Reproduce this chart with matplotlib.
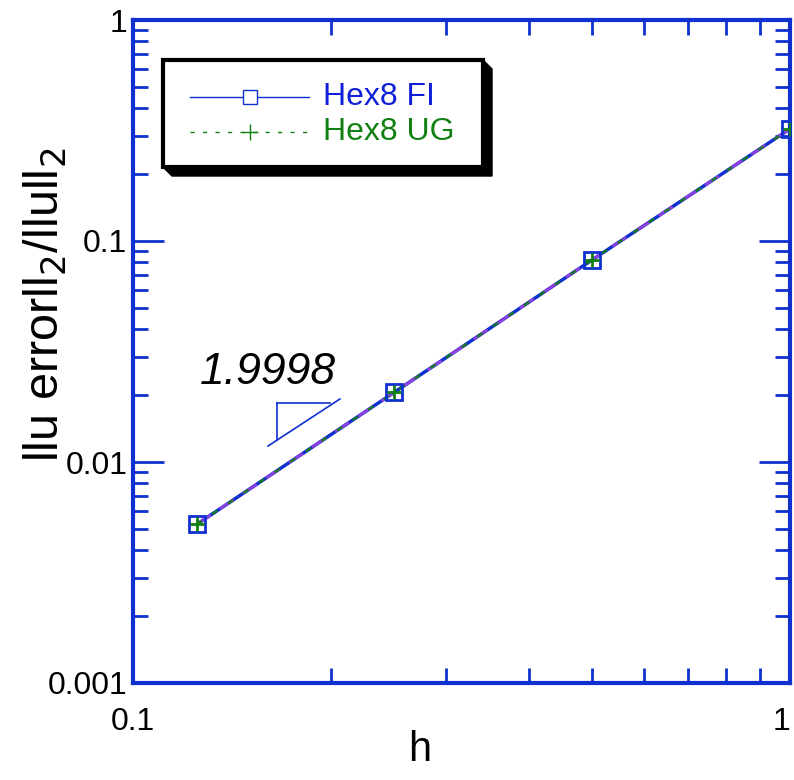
import matplotlib.pyplot as plt
from matplotlib.patches import Rectangle, Polygon
from matplotlib.lines import Line2D
from matplotlib.ticker import NullFormatter

plt.rcParams['font.family'] = ['Liberation Sans', 'DejaVu Sans']

# data
h = [0.125, 0.25, 0.5, 1.0]
err_fi = [0.00522, 0.0207, 0.0822, 0.3216]
err_ug = [0.00522, 0.0207, 0.0822, 0.3216]
slope_label = '1.9998'

# slope triangle (data coords)
tri_x = [0.1605, 0.2065]
tri_y = [0.01181, 0.01928]
leg_x = 0.1656
leg_y = [0.01258, 0.01849]
top_x = [0.1656, 0.1994]

blue = '#1030d0'
green = '#108010'
purple = '#9040e0'

fig = plt.figure(figsize=(7.94, 7.80), dpi=100)
ax = fig.add_axes([133/794, 97/780, 657/794, 663/780])

ax.plot(h, err_fi, '-', color=blue, lw=2.5, zorder=3)
ax.plot(h, err_fi, '--', color=purple, lw=2, dashes=(6, 4), zorder=4)
ax.plot(h, err_ug, '--', color=green, lw=1.5, dashes=(3, 6), zorder=5)
ax.plot(h, err_fi, 's', ms=12, mfc='none', mec=blue, mew=2, zorder=6)
ax.plot(h, err_ug, '+', ms=10, mec=green, mew=2, zorder=7)

ax.set_xscale('log')
ax.set_yscale('log')
ax.set_xlim(0.1, 1)
ax.set_ylim(0.001, 1)

ax.set_xticks([0.1, 1])
ax.set_xticklabels(['0.1', '1'])
ax.set_yticks([0.001, 0.01, 0.1, 1])
ax.set_yticklabels(['0.001', '0.01', '0.1', '1'])
ax.xaxis.set_minor_formatter(NullFormatter())
ax.yaxis.set_minor_formatter(NullFormatter())
ax.get_xticklabels()[-1].set_ha('right')

for s in ax.spines.values():
    s.set_color(blue)
    s.set_linewidth(3)
ax.tick_params(which='major', direction='in', length=22, width=2, color=blue,
               labelsize=23, top=True, right=True, pad=4)
ax.tick_params(which='minor', direction='in', length=11, width=2, color=blue,
               top=True, right=True)
ax.tick_params(axis='x', which='major', pad=17)

# slope triangle
ax.plot(tri_x, tri_y, color=blue, lw=1.2)
ax.plot([leg_x, leg_x], leg_y, color=blue, lw=1.2)
ax.plot(top_x, [leg_y[1], leg_y[1]], color=blue, lw=1.2)
ax.text(0.1605, 0.0255, slope_label, fontsize=32, style='italic',
        ha='center', va='center')

# axis labels
fig.text(45/794, 1 - 305/780, 'llu errorll$_2$/llull$_2$', rotation=90,
         fontsize=35, ha='center', va='center')
fig.text(420/794, 1 - 750/780, 'h', fontsize=30, ha='center', va='center')

# legend box drawn by hand
x0, x1 = 163/794, 483/794
y0, y1 = 1 - 167/780, 1 - 60/780
dx, dy = 9/794, 9/780
shadow = Polygon([(x0, y0), (x0 + dx, y0 - dy), (x1 + dx, y0 - dy),
                  (x1 + dx, y1 - dy), (x1, y1)],
                 closed=True, transform=fig.transFigure, facecolor='black',
                 edgecolor='black', zorder=10)
box = Rectangle((x0, y0), x1 - x0, y1 - y0, transform=fig.transFigure,
                facecolor='white', edgecolor='black', lw=3, zorder=11)
fig.patches.extend([shadow, box])

ly1, ly2 = 1 - 97/780, 1 - 132/780
fig.lines.append(Line2D([190/794, 309/794], [ly1, ly1], color=blue, lw=1,
                        transform=fig.transFigure, zorder=12))
fig.lines.append(Line2D([250/794], [ly1], marker='s', ms=10, mfc='white',
                        mec=blue, mew=1, transform=fig.transFigure, zorder=13))
fig.lines.append(Line2D([190/794, 309/794], [ly2, ly2], color=green, lw=1,
                        ls=(0, (3, 6)), transform=fig.transFigure, zorder=12))
fig.lines.append(Line2D([250/794], [ly2], marker='+', ms=12, mec=green,
                        mew=1, transform=fig.transFigure, zorder=13))
fig.text(323/794, ly1, 'Hex8 FI', color='#1020d8', fontsize=23, va='center',
         zorder=14)
fig.text(323/794, ly2, 'Hex8 UG', color=green, fontsize=23, va='center',
         zorder=14)

fig.savefig('out.png', dpi=100)
